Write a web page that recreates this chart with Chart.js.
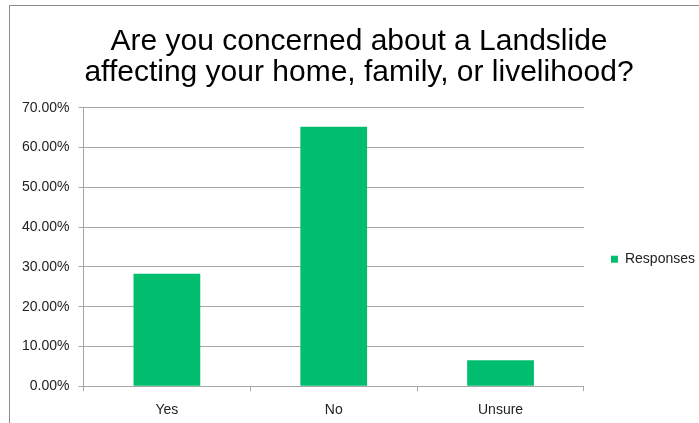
<!DOCTYPE html>
<html>
<head>
<meta charset="utf-8">
<script src="https://cdn.jsdelivr.net/npm/chart.js@4.4.0/dist/chart.umd.min.js"></script>
<style>
  html, body { margin: 0; padding: 0; background: #fff; }
  .wrap { position: relative; width: 699px; height: 423px; }
  .frame { position: absolute; left: 9px; top: 5px; right: 0; bottom: 0; border-left: 1px solid #8c8c8c; border-top: 1px solid #8c8c8c; }
  canvas { position: absolute; left: 0; top: 0; }
</style>
</head>
<body>
<div class="wrap">
  <div class="frame"></div>
  <canvas id="chart" width="699" height="423"></canvas>
</div>
<script>
// survey answers
const categories = ['Yes', 'No', 'Unsure'];
const responses = [0.2826, 0.6522, 0.0652];
const titleLines = ['Are you concerned about a Landslide', 'affecting your home, family, or livelihood?'];
const seriesName = 'Responses';

const gridGray = '#a6a6a6';

new Chart(document.getElementById('chart').getContext('2d'), {
  type: 'bar',
  data: {
    labels: categories,
    datasets: [
      {
        label: seriesName,
        data: responses,
        backgroundColor: '#00be6e',
        borderWidth: 0,
        barPercentage: 0.4,
        categoryPercentage: 1.0,
      },
    ],
  },
  options: {
    responsive: false,
    animation: false,
    layout: { padding: { top: 26, left: 13, right: -6, bottom: -7 } },
    plugins: {
      title: {
        display: true,
        text: titleLines,
        color: '#000',
        font: { family: 'Liberation Sans', size: 30, weight: 'normal', lineHeight: 1.03 },
        padding: { top: 0, bottom: 20 },
      },
      legend: {
        position: 'right',
        // empty legend title only to push the single item a bit lower
        title: { display: true, text: '', padding: { top: 24, bottom: 24 } },
        labels: {
          boxWidth: 7,
          boxHeight: 7,
          padding: 27,
          color: '#222',
          font: { family: 'Liberation Sans', size: 14 },
        },
      },
      tooltip: { enabled: false },
    },
    scales: {
      x: {
        grid: { drawOnChartArea: false, drawTicks: true, tickLength: 5, color: gridGray },
        border: { color: gridGray },
        ticks: { color: '#222', padding: 11, font: { family: 'Liberation Sans', size: 14 } },
      },
      y: {
        min: 0,
        max: 0.7,
        grid: { color: gridGray, tickLength: 5 },
        border: { color: gridGray },
        ticks: {
          stepSize: 0.1,
          padding: 9,
          color: '#222',
          font: { family: 'Liberation Sans', size: 14 },
          callback: (v) => (v * 100).toFixed(2) + '%',
        },
      },
    },
  },
});
</script>
</body>
</html>
